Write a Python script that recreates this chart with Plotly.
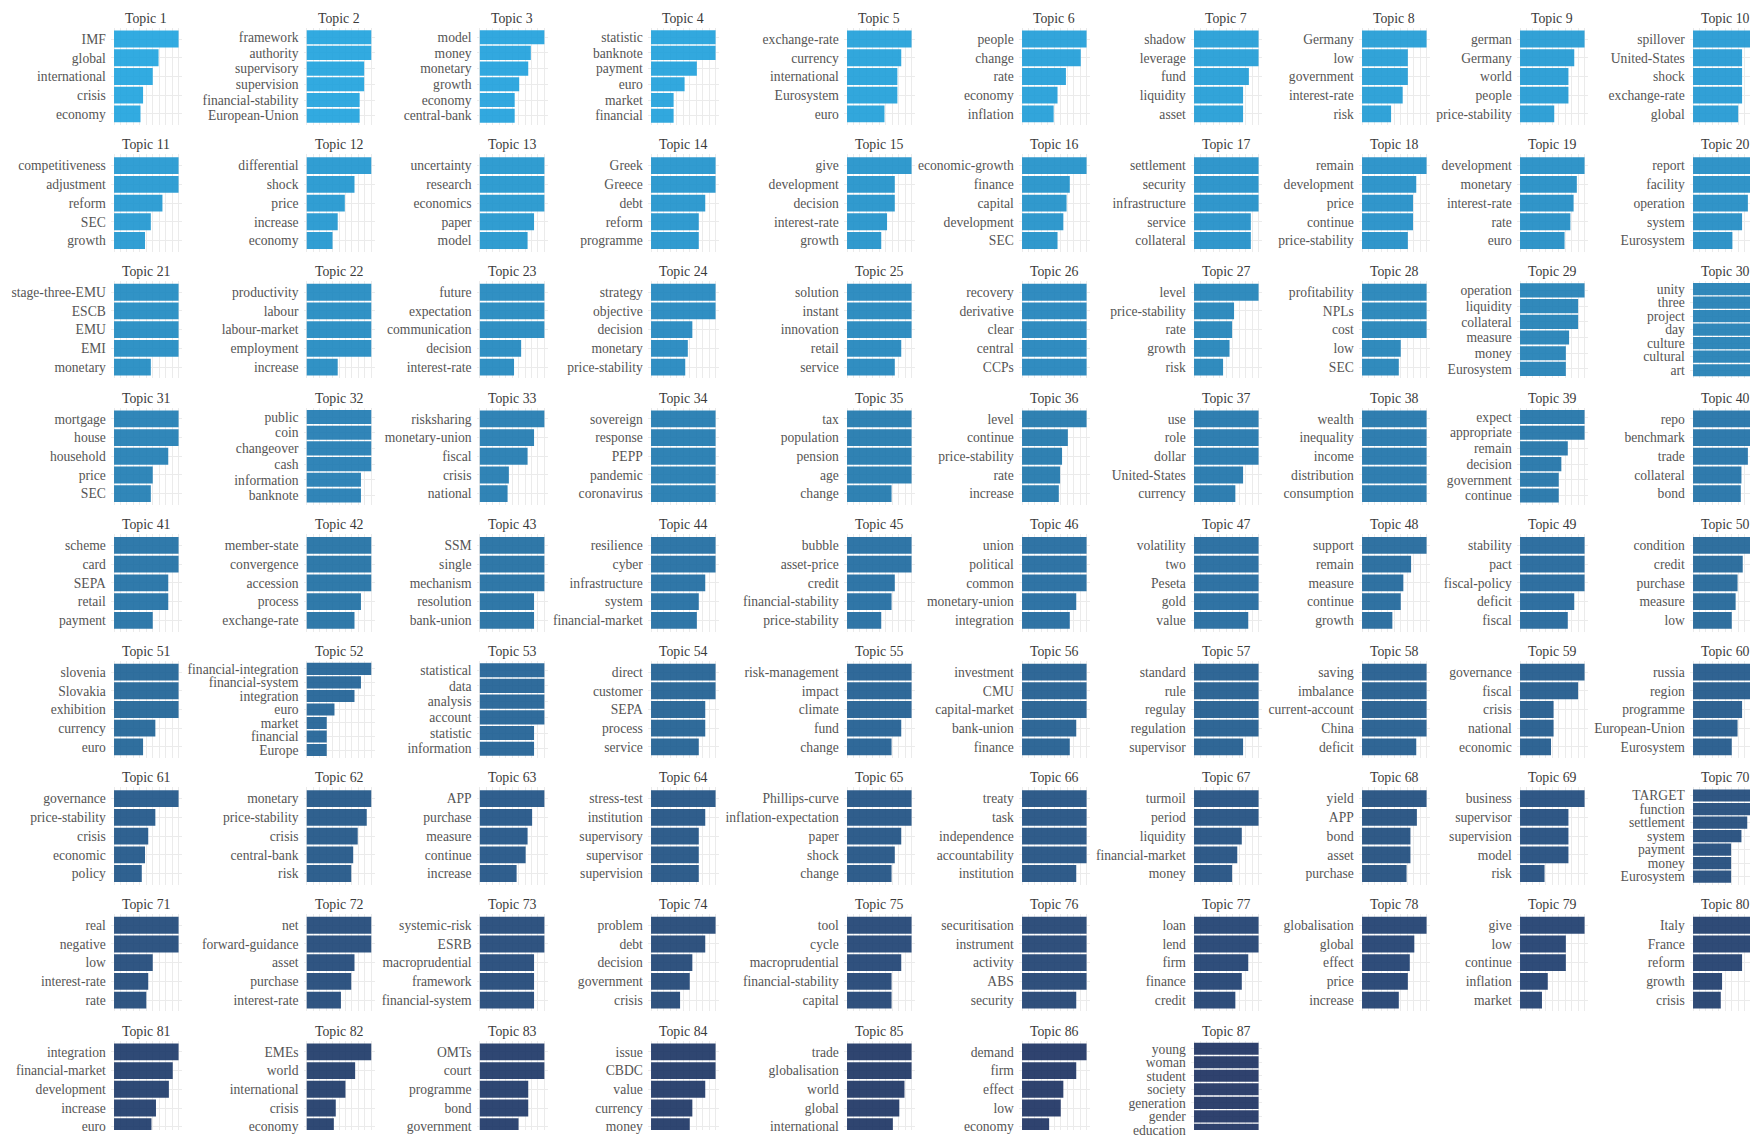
import plotly.graph_objects as go

# ---------------- data (top words per topic, bar length relative to the largest word, %) ----------------
WORDS = [
    ["IMF", "global", "international", "crisis", "economy"],
    ["framework", "authority", "supervisory", "supervision", "financial-stability", "European-Union"],
    ["model", "money", "monetary", "growth", "economy", "central-bank"],
    ["statistic", "banknote", "payment", "euro", "market", "financial"],
    ["exchange-rate", "currency", "international", "Eurosystem", "euro"],
    ["people", "change", "rate", "economy", "inflation"],
    ["shadow", "leverage", "fund", "liquidity", "asset"],
    ["Germany", "low", "government", "interest-rate", "risk"],
    ["german", "Germany", "world", "people", "price-stability"],
    ["spillover", "United-States", "shock", "exchange-rate", "global"],
    ["competitiveness", "adjustment", "reform", "SEC", "growth"],
    ["differential", "shock", "price", "increase", "economy"],
    ["uncertainty", "research", "economics", "paper", "model"],
    ["Greek", "Greece", "debt", "reform", "programme"],
    ["give", "development", "decision", "interest-rate", "growth"],
    ["economic-growth", "finance", "capital", "development", "SEC"],
    ["settlement", "security", "infrastructure", "service", "collateral"],
    ["remain", "development", "price", "continue", "price-stability"],
    ["development", "monetary", "interest-rate", "rate", "euro"],
    ["report", "facility", "operation", "system", "Eurosystem"],
    ["stage-three-EMU", "ESCB", "EMU", "EMI", "monetary"],
    ["productivity", "labour", "labour-market", "employment", "increase"],
    ["future", "expectation", "communication", "decision", "interest-rate"],
    ["strategy", "objective", "decision", "monetary", "price-stability"],
    ["solution", "instant", "innovation", "retail", "service"],
    ["recovery", "derivative", "clear", "central", "CCPs"],
    ["level", "price-stability", "rate", "growth", "risk"],
    ["profitability", "NPLs", "cost", "low", "SEC"],
    ["operation", "liquidity", "collateral", "measure", "money", "Eurosystem"],
    ["unity", "three", "project", "day", "culture", "cultural", "art"],
    ["mortgage", "house", "household", "price", "SEC"],
    ["public", "coin", "changeover", "cash", "information", "banknote"],
    ["risksharing", "monetary-union", "fiscal", "crisis", "national"],
    ["sovereign", "response", "PEPP", "pandemic", "coronavirus"],
    ["tax", "population", "pension", "age", "change"],
    ["level", "continue", "price-stability", "rate", "increase"],
    ["use", "role", "dollar", "United-States", "currency"],
    ["wealth", "inequality", "income", "distribution", "consumption"],
    ["expect", "appropriate", "remain", "decision", "government", "continue"],
    ["repo", "benchmark", "trade", "collateral", "bond"],
    ["scheme", "card", "SEPA", "retail", "payment"],
    ["member-state", "convergence", "accession", "process", "exchange-rate"],
    ["SSM", "single", "mechanism", "resolution", "bank-union"],
    ["resilience", "cyber", "infrastructure", "system", "financial-market"],
    ["bubble", "asset-price", "credit", "financial-stability", "price-stability"],
    ["union", "political", "common", "monetary-union", "integration"],
    ["volatility", "two", "Peseta", "gold", "value"],
    ["support", "remain", "measure", "continue", "growth"],
    ["stability", "pact", "fiscal-policy", "deficit", "fiscal"],
    ["condition", "credit", "purchase", "measure", "low"],
    ["slovenia", "Slovakia", "exhibition", "currency", "euro"],
    ["financial-integration", "financial-system", "integration", "euro", "market", "financial", "Europe"],
    ["statistical", "data", "analysis", "account", "statistic", "information"],
    ["direct", "customer", "SEPA", "process", "service"],
    ["risk-management", "impact", "climate", "fund", "change"],
    ["investment", "CMU", "capital-market", "bank-union", "finance"],
    ["standard", "rule", "regulay", "regulation", "supervisor"],
    ["saving", "imbalance", "current-account", "China", "deficit"],
    ["governance", "fiscal", "crisis", "national", "economic"],
    ["russia", "region", "programme", "European-Union", "Eurosystem"],
    ["governance", "price-stability", "crisis", "economic", "policy"],
    ["monetary", "price-stability", "crisis", "central-bank", "risk"],
    ["APP", "purchase", "measure", "continue", "increase"],
    ["stress-test", "institution", "supervisory", "supervisor", "supervision"],
    ["Phillips-curve", "inflation-expectation", "paper", "shock", "change"],
    ["treaty", "task", "independence", "accountability", "institution"],
    ["turmoil", "period", "liquidity", "financial-market", "money"],
    ["yield", "APP", "bond", "asset", "purchase"],
    ["business", "supervisor", "supervision", "model", "risk"],
    ["TARGET", "function", "settlement", "system", "payment", "money", "Eurosystem"],
    ["real", "negative", "low", "interest-rate", "rate"],
    ["net", "forward-guidance", "asset", "purchase", "interest-rate"],
    ["systemic-risk", "ESRB", "macroprudential", "framework", "financial-system"],
    ["problem", "debt", "decision", "government", "crisis"],
    ["tool", "cycle", "macroprudential", "financial-stability", "capital"],
    ["securitisation", "instrument", "activity", "ABS", "security"],
    ["loan", "lend", "firm", "finance", "credit"],
    ["globalisation", "global", "effect", "price", "increase"],
    ["give", "low", "continue", "inflation", "market"],
    ["Italy", "France", "reform", "growth", "crisis"],
    ["integration", "financial-market", "development", "increase", "euro"],
    ["EMEs", "world", "international", "crisis", "economy"],
    ["OMTs", "court", "programme", "bond", "government"],
    ["issue", "CBDC", "value", "currency", "money"],
    ["trade", "globalisation", "world", "global", "international"],
    ["demand", "firm", "effect", "low", "economy"],
    ["young", "woman", "student", "society", "generation", "gender", "education"],
]

VALUES = [
    [100, 69, 60, 45, 41],
    [100, 100, 89, 89, 82, 82],
    [100, 79, 75, 61, 54, 54],
    [100, 100, 71, 52, 35, 35],
    [100, 84, 78, 78, 58],
    [100, 91, 68, 55, 49],
    [100, 100, 85, 76, 76],
    [100, 71, 71, 63, 45],
    [100, 84, 75, 75, 53],
    [100, 76, 76, 76, 70],
    [100, 100, 75, 57, 48],
    [100, 74, 59, 48, 40],
    [100, 100, 100, 84, 74],
    [100, 100, 84, 74, 74],
    [100, 74, 74, 62, 53],
    [100, 74, 69, 64, 55],
    [100, 100, 100, 88, 88],
    [100, 84, 79, 79, 71],
    [100, 88, 83, 78, 69],
    [100, 100, 85, 76, 61],
    [100, 100, 100, 100, 57],
    [100, 100, 100, 100, 48],
    [100, 100, 100, 64, 53],
    [100, 100, 64, 57, 53],
    [100, 100, 100, 84, 74],
    [100, 100, 100, 100, 100],
    [100, 62, 59, 55, 45],
    [100, 100, 100, 60, 57],
    [100, 90, 90, 76, 71, 71],
    [100, 100, 100, 100, 100, 100, 100],
    [100, 100, 84, 60, 57],
    [100, 100, 100, 100, 84, 84],
    [100, 84, 74, 45, 43],
    [100, 100, 100, 100, 100],
    [100, 100, 100, 100, 69],
    [100, 71, 62, 59, 57],
    [100, 100, 100, 76, 64],
    [100, 100, 100, 100, 100],
    [100, 100, 74, 64, 60, 60],
    [100, 100, 85, 75, 74],
    [100, 100, 84, 84, 60],
    [100, 100, 100, 84, 74],
    [100, 100, 100, 84, 84],
    [100, 100, 84, 74, 71],
    [100, 100, 74, 69, 53],
    [100, 100, 100, 84, 74],
    [100, 100, 100, 100, 84],
    [100, 76, 64, 60, 47],
    [100, 100, 100, 84, 74],
    [100, 77, 69, 66, 60],
    [100, 100, 100, 64, 45],
    [100, 84, 74, 43, 31, 31, 31],
    [100, 100, 100, 100, 84, 84],
    [100, 100, 84, 84, 74],
    [100, 100, 100, 84, 69],
    [100, 100, 100, 84, 74],
    [100, 100, 100, 100, 76],
    [100, 100, 100, 100, 84],
    [100, 90, 52, 52, 48],
    [100, 100, 76, 69, 60],
    [100, 64, 53, 48, 43],
    [100, 93, 79, 72, 69],
    [100, 81, 74, 71, 57],
    [100, 84, 74, 74, 74],
    [100, 100, 84, 74, 69],
    [100, 100, 100, 100, 84],
    [100, 100, 74, 67, 59],
    [100, 85, 75, 75, 69],
    [100, 75, 75, 75, 38],
    [100, 100, 84, 75, 59, 59, 59],
    [100, 100, 60, 53, 50],
    [100, 100, 74, 69, 53],
    [100, 100, 84, 84, 84],
    [100, 84, 64, 60, 45],
    [100, 100, 84, 69, 69],
    [100, 100, 100, 100, 84],
    [100, 100, 84, 74, 64],
    [100, 81, 74, 71, 57],
    [100, 71, 71, 43, 34],
    [100, 100, 76, 45, 43],
    [100, 91, 85, 65, 58],
    [100, 75, 60, 45, 42],
    [100, 100, 75, 75, 60],
    [100, 100, 84, 64, 60],
    [100, 100, 89, 81, 71],
    [100, 84, 64, 60, 42],
    [100, 100, 100, 100, 100, 100, 100],
]

TITLES = ["Topic %d" % (i + 1) for i in range(len(WORDS))]

# ---------------- layout geometry (pixels) ----------------
W, H = 1750, 1138
N_COLS = 10
COL_LEFT = [110.8, 303.5, 476.6, 647.8, 843.8, 1018.8, 1190.8, 1358.8, 1516.8, 1689.8]
PANEL_W = 71.0
ROW_TOP0 = 28.0
ROW_PITCH = 127.5
PANEL_H = 98.0
TITLE_GAP = 9.5

FONT = "Liberation Serif, Times New Roman, serif"
C_LIGHT = (28, 162, 222)
C_DARK = (24, 46, 94)
GRID = "#EBEBEB"

fig = go.Figure()
layout = {}
annotations = []
n_topics = len(WORDS)

for k in range(n_topics):
    words = WORDS[k]
    vals = VALUES[k]
    n = len(words)
    r, c = divmod(k, N_COLS)
    t = k / (n_topics - 1)
    rgb = tuple(round(C_LIGHT[i] + (C_DARK[i] - C_LIGHT[i]) * t) for i in range(3))
    color = "rgb(%d,%d,%d)" % rgb

    xname = "x" if k == 0 else "x%d" % (k + 1)
    yname = "y" if k == 0 else "y%d" % (k + 1)
    xkey = "xaxis" if k == 0 else "xaxis%d" % (k + 1)
    ykey = "yaxis" if k == 0 else "yaxis%d" % (k + 1)

    fig.add_trace(go.Bar(
        x=vals, y=list(range(n)), orientation="h", width=0.9,
        marker=dict(color=color, opacity=0.9, line=dict(width=0)),
        xaxis=xname, yaxis=yname, showlegend=False,
        hovertemplate="%{text}: %{x}<extra></extra>", text=words, textposition="none",
    ))

    M = max(vals)
    x0 = COL_LEFT[c]
    x1 = min(x0 + PANEL_W, W)
    lo = -0.05 * M
    hi = lo + 1.10 * M * (x1 - x0) / PANEL_W

    top = ROW_TOP0 + r * ROW_PITCH
    bot = min(top + PANEL_H, H)
    ytop = -0.6
    ybot = -0.6 + (n + 0.2) * (bot - top) / PANEL_H

    layout[xkey] = dict(
        domain=[x0 / W, x1 / W], range=[lo, hi], anchor=yname,
        showticklabels=False, ticks="", showgrid=True, gridcolor=GRID, gridwidth=1,
        zeroline=False, showline=False, tick0=0, dtick=M / 10.0, fixedrange=True,
    )
    layout[ykey] = dict(
        domain=[1 - bot / H, 1 - top / H], range=[ybot, ytop], anchor=xname,
        tickmode="array", tickvals=list(range(n)), ticktext=words,
        ticks="", ticklabelstandoff=4, ticklabeloverflow="allow",
        showgrid=True, gridcolor=GRID, gridwidth=1,
        zeroline=False, showline=False, fixedrange=True,
        tickfont=dict(family=FONT, size=13.6, color="#555555"),
    )
    annotations.append(dict(
        text=TITLES[k], xref="paper", yref="paper",
        x=(x0 + PANEL_W / 2) / W, y=1 - (top - TITLE_GAP) / H,
        xanchor="center", yanchor="middle", showarrow=False,
        font=dict(family=FONT, size=13.8, color="#3a3a3a"),
    ))

fig.update_layout(
    width=W, height=H, margin=dict(l=0, r=0, t=0, b=0, pad=0),
    paper_bgcolor="white", plot_bgcolor="white",
    annotations=annotations, showlegend=False,
    font=dict(family=FONT), **layout,
)

fig.write_html(
    "out.html",
    config={"displayModeBar": False},
    post_script="document.body.style.margin='0';document.body.style.overflow='hidden';",
)
